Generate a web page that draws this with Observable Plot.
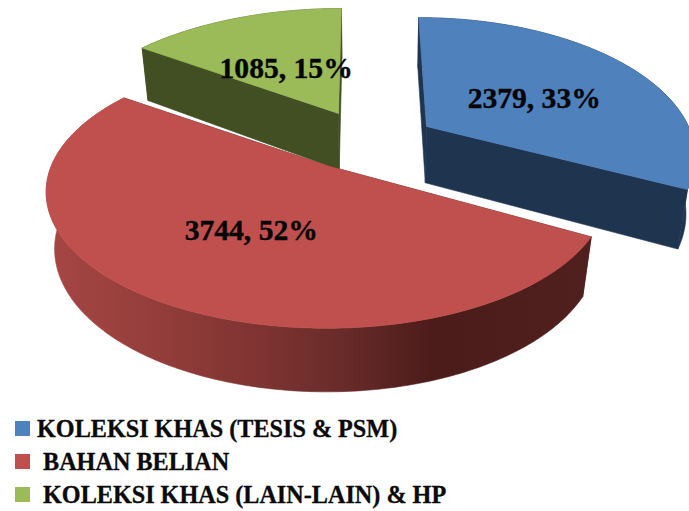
<!DOCTYPE html>
<html><head><meta charset="utf-8">
<script src="https://cdn.jsdelivr.net/npm/d3@7"></script>
<script src="https://cdn.jsdelivr.net/npm/@observablehq/plot@0.6"></script>
<style>
html,body{margin:0;padding:0;background:#fff;overflow:hidden}
#legend{position:relative;height:100px;font:bold 24.2px "Liberation Serif",serif;color:#0a0a0a;-webkit-text-stroke:0.3px #0a0a0a}
.row{position:absolute;white-space:nowrap;line-height:33px;height:33px}
.sw{position:absolute;width:15px;height:15px;left:15px}
</style></head><body>
<div id="chart"></div>
<div id="legend"></div>
<script>
const names = ["KOLEKSI KHAS (TESIS & PSM)", "BAHAN BELIAN", "KOLEKSI KHAS (LAIN-LAIN) & HP"];
const values = [2379, 3744, 1085];
const percents = ["33%", "52%", "15%"];
const topColors = ["#4F81BD", "#C0504D", "#9BBB59"];
const sideColors = ["#1F344F", "url(#redWall)", "#414F23"];
const redStops = [[0.07, "#A64643"], [0.22, "#943E3B"], [0.37, "#7F3432"], [0.5, "#672B29"], [0.63, "#4B1C1A"], [0.86, "#4F201E"]];

// projection of the tilted, exploded 3D pie
const rxs = [262, 275, 272], rys = [130, 131, 125.5], leans = [41, 0, -25];
const k = 0.195, m = 0.03, D = 58, startAngle = -0.3;
const centers = [[426, 126], [326, 165], [338, 113]];
const viewTwist = [[0, -2.2], [1, -0.5], [0, 0]]; // perspective skew of each wedge's edges, degrees
const labelRadius = [0.47, 0.53, 0.43];
const labelNudge = [[10, 3], [10, 1], [-4, 0]];
const svgH = 411;
const total = d3.sum(values);

function project(i, deg, f, Z) {
  const a = deg * Math.PI / 180, X = f * Math.sin(a), Y = -f * Math.cos(a);
  const [cx, cy] = centers[i];
  const w = 1 - k * Y + m * Z, off = leans[i];
  return {x: cx - off + (rxs[i] * X + off) / w, y: cy + (rys[i] * Y + D * Z) / w};
}
const spans = [];
{ let a = startAngle;
  values.forEach((v, i) => { const b = a + v / total * 360;
    spans.push([a + viewTwist[i][0], b + viewTwist[i][1]]); a = b; }); }

const faces = [];
let fid = 0;
function face(pts, c) {
  const id = fid++;
  [...pts, pts[0]].forEach(p => faces.push({x: p.x, y: p.y, id, c}));
}

[2, 0, 1].forEach(i => {
  const [a, b] = spans[i];
  const side = sideColors[i];
  const arc = d3.range(a, b, 1).concat(b);
  // flat cut walls
  const cut = i === 1 ? "#4F201E" : side;
  [a, b].forEach(e => face([project(i, e, 0, 0), project(i, e, 1, 0), project(i, e, 1, 1), project(i, e, 0, 1)], cut));
  // outer curved wall
  face([...arc.map(t => project(i, t, 1, 0)), ...arc.slice().reverse().map(t => project(i, t, 1, 1))], side);
  // top surface
  face([project(i, a, 0, 0), ...arc.map(t => project(i, t, 1, 0))], topColors[i]);
});

const labels = values.map((v, i) => {
  const p = project(i, (spans[i][0] + spans[i][1]) / 2, labelRadius[i], 0);
  return {x: p.x + labelNudge[i][0], y: p.y + labelNudge[i][1], t: `${v}, ${percents[i]}`};
});

const plot = Plot.plot({
  width: 689, height: svgH, margin: 0,
  x: {domain: [0, 689], axis: null},
  y: {domain: [svgH, 0], axis: null},
  color: {type: "identity"},
  marks: [
    () => {
      const defs = d3.create("svg:defs");
      const g = defs.append("linearGradient").attr("id", "redWall")
        .attr("gradientUnits", "userSpaceOnUse")
        .attr("x1", 0).attr("x2", 689).attr("y1", 0).attr("y2", 0);
      redStops.forEach(([o, c]) => g.append("stop").attr("offset", o).attr("stop-color", c));
      return defs.node();
    },
    Plot.line(faces, {x: "x", y: "y", z: "id", fill: "c", stroke: "c", strokeWidth: 0.6}),
    Plot.text(labels, {x: "x", y: "y", text: "t", fontSize: 29.6, fontWeight: "bold",
      fontFamily: "Liberation Serif", fill: "#050505", stroke: "#050505", strokeWidth: 0.4})
  ]
});
document.getElementById("chart").appendChild(plot);

const lg = document.getElementById("legend");
const legendX = [37, 43, 43];
names.forEach((n, i) => {
  const top = 9 + i * 33;
  lg.insertAdjacentHTML("beforeend",
    `<div class="sw" style="top:${top + 1}px;background:${topColors[i]}"></div>` +
    `<div class="row" style="top:${top - 8}px;left:${legendX[i]}px">${n.replace("&", "&amp;")}</div>`);
});
</script></body></html>
